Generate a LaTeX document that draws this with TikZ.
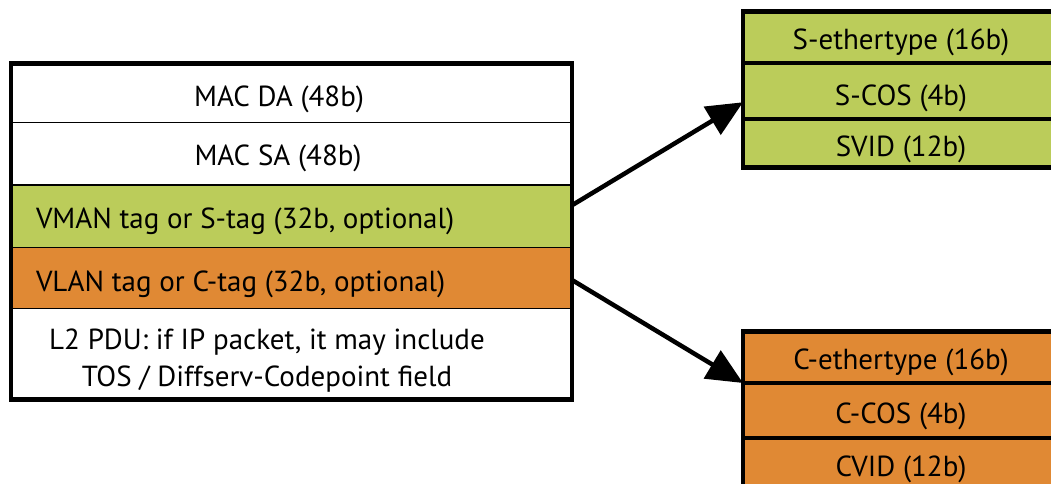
\documentclass[tikz,border=0pt]{standalone}
\usepackage{fontspec}
\setmainfont{PT Sans}
\usetikzlibrary{arrows.meta}
\definecolor{sgreen}{RGB}{187,204,90}
\definecolor{corange}{RGB}{224,137,52}
\tikzset{
  lrow/.style={rectangle, draw=black, line width=1.8pt, inner sep=0pt, outer sep=0pt,
    anchor=north west, minimum width=561pt},
  rrow/.style={rectangle, draw=black, line width=4pt, inner sep=0pt, outer sep=0pt,
    anchor=north west, minimum width=314pt},
  outer/.style={draw=black, line width=4.5pt},
  txt/.style={inner sep=0pt, outer sep=0pt, font=\fontsize{29}{30}\selectfont},
  conn/.style={line width=4.5pt, -{Triangle[length=36pt,width=32pt]}},
}
\begin{document}
\begin{tikzpicture}[x=1pt,y=-1pt]
\useasboundingbox (0,0) rectangle (1051,484);
\clip (0,0) rectangle (1051,484);
\fill[white] (0,0) rectangle (1051,484);
% left frame
\node[lrow, fill=white, minimum height=59pt] (mda) at (11,63.5) {};
\node[lrow, fill=white, minimum height=62.5pt] (msa) at (11,122.5) {};
\node[lrow, fill=sgreen, minimum height=62.5pt] (vman) at (11,185) {};
\node[lrow, fill=corange, minimum height=61pt] (vlan) at (11,247.5) {};
\node[lrow, fill=white, minimum height=91pt] (pdu) at (11,308.5) {};
\draw[outer] (mda.north west) rectangle (pdu.south east);
\node[txt, anchor=base] (tmda) at (279,106.5) {MAC DA (48b)};
\node[txt, anchor=base] (tmsa) at (278,165) {MAC SA (48b)};
\node[txt, anchor=base west] (tvman) at (36,228.5) {VMAN tag or S-tag (32b, optional)};
\node[txt, anchor=base west] (tvlan) at (36,291.5) {VLAN tag or C-tag (32b, optional)};
\node[txt, anchor=base] (tpdu1) at (267,349.5) {L2 PDU: if IP packet, it may include};
\node[txt, anchor=base] (tpdu2) at (267,386) {TOS / Diffserv-Codepoint field};
% S-tag frame
\node[rrow, fill=sgreen, minimum height=52pt] (seth) at (743,11.5) {};
\node[rrow, fill=sgreen, minimum height=55.5pt] (scos) at (743,63.5) {};
\node[rrow, fill=sgreen, minimum height=48.5pt] (svid) at (743,119) {};
\draw[outer] (seth.north west) rectangle (svid.south east);
\node[txt, anchor=base] (tseth) at (901,50) {S-ethertype (16b)};
\node[txt, anchor=base] (tscos) at (901,106) {S-COS (4b)};
\node[txt, anchor=base] (tsvid) at (901,156) {SVID (12b)};
% C-tag frame
\node[rrow, fill=corange, minimum height=51.5pt] (ceth) at (743,331.5) {};
\node[rrow, fill=corange, minimum height=55pt] (ccos) at (743,383) {};
\node[rrow, fill=corange, minimum height=55pt] (cvid) at (743,438) {};
\draw[outer] (ceth.north west) rectangle (cvid.south east);
\node[txt, anchor=base] (tceth) at (901,369.3) {C-ethertype (16b)};
\node[txt, anchor=base] (tccos) at (901,423.3) {C-COS (4b)};
\node[txt, anchor=base] (tcvid) at (901,476.7) {CVID (12b)};
% connectors
\draw[conn] ([yshift=11pt]vman.east) -- ([yshift=-11pt]scos.west);
\draw[conn] ([yshift=-2pt]vlan.east) -- (ceth.south west);
\end{tikzpicture}
\end{document}
